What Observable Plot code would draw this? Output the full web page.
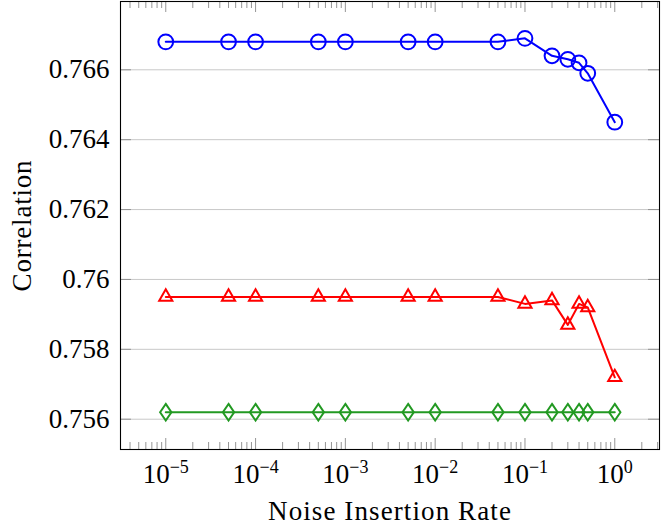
<!DOCTYPE html>
<html>
<head>
<meta charset="utf-8">
<script src="https://cdn.jsdelivr.net/npm/d3@7"></script>
<script src="https://cdn.jsdelivr.net/npm/@observablehq/plot@0.6"></script>
<style>
  html, body { margin: 0; padding: 0; background: #fff; }
  #chart svg, #chart svg text, #chart svg tspan { font-family: "Liberation Serif", "DejaVu Serif", "Noto Serif", serif !important; }
</style>
</head>
<body>
<div id="chart"></div>
<script>
// ---- data ----
const rates = [1e-5, 5e-5, 1e-4, 5e-4, 1e-3, 5e-3, 1e-2, 5e-2, 0.1, 0.2, 0.3, 0.4, 0.5, 1.0];
const blueSeries  = [0.7668, 0.7668, 0.7668, 0.7668, 0.7668, 0.7668, 0.7668, 0.7668, 0.7669, 0.7664, 0.7663, 0.7662, 0.7659, 0.7645];
const redSeries   = [0.7595, 0.7595, 0.7595, 0.7595, 0.7595, 0.7595, 0.7595, 0.7595, 0.7593, 0.7594, 0.7587, 0.7593, 0.7592, 0.7572];
const greenSeries = [0.7562, 0.7562, 0.7562, 0.7562, 0.7562, 0.7562, 0.7562, 0.7562, 0.7562, 0.7562, 0.7562, 0.7562, 0.7562, 0.7562];
const xMajorTicks = [1e-5, 1e-4, 1e-3, 1e-2, 1e-1, 1];
const yTicks = [0.756, 0.758, 0.76, 0.762, 0.764, 0.766];
const yTickLabels = ["0.756", "0.758", "0.76", "0.762", "0.764", "0.766"];
const xLabel = "Noise Insertion Rate";
const yLabel = "Correlation";

// ---- layout ----
const W = 661, H = 529;
const mL = 120, mR = 2, mT = 1, mB = 80;
const frameW = W - mL - mR, frameH = H - mT - mB;
const xDomain = [Math.pow(10, -5.504), Math.pow(10, 0.498)];
const yDomain = [0.755133, 0.767955];

const minorTicks = [];
for (let k = -6; k <= 0; k++) for (let m = 2; m <= 9; m++) {
  const v = m * Math.pow(10, k);
  if (v > xDomain[0] && v < xDomain[1]) minorTicks.push(v);
}

const toRows = (vals, s) => rates.map((r, i) => ({rate: r, value: vals[i], series: s}));
const blue = toRows(blueSeries, "blue");
const red = toRows(redSeries, "red");
const green = toRows(greenSeries, "green");

const cBlue = "#0000ff", cRed = "#ff0000", cGreen = "#229922";

const triangleSym = {
  draw(ctx, size) {
    const R = Math.sqrt(size / Math.PI);
    ctx.moveTo(0, -R);
    ctx.lineTo(0.866 * R, 0.5 * R);
    ctx.lineTo(-0.866 * R, 0.5 * R);
    ctx.closePath();
  }
};
const diamondSym = {
  draw(ctx, size) {
    const R = Math.sqrt(size / Math.PI);
    ctx.moveTo(0, -R);
    ctx.lineTo(0.68 * R, 0);
    ctx.lineTo(0, R);
    ctx.lineTo(-0.68 * R, 0);
    ctx.closePath();
  }
};

const tickStroke = "#8a8a8a";
const SW = 2;
const chart = Plot.plot({
  width: W, height: H,
  marginLeft: mL, marginRight: mR, marginTop: mT, marginBottom: mB,
  style: {fontFamily: "Liberation Serif, serif", fontSize: "27px", color: "black", background: "white"},
  x: {type: "log", domain: xDomain},
  y: {domain: yDomain},
  marks: [
    Plot.gridY(yTicks, {stroke: "#c8c8c8", strokeOpacity: 1, strokeWidth: 1}),
    // x ticks bottom (inward)
    Plot.tickX(minorTicks, {x: d => d, insetTop: frameH - 7, stroke: tickStroke, strokeWidth: 0.9}),
    Plot.tickX(xMajorTicks, {x: d => d, insetTop: frameH - 11, stroke: tickStroke, strokeWidth: 0.9}),
    // x ticks top (inward)
    Plot.tickX(minorTicks, {x: d => d, insetBottom: frameH - 7, stroke: tickStroke, strokeWidth: 0.9}),
    Plot.tickX(xMajorTicks, {x: d => d, insetBottom: frameH - 11, stroke: tickStroke, strokeWidth: 0.9}),
    // y ticks left & right (inward)
    Plot.tickY(yTicks, {y: d => d, insetRight: frameW - 11, stroke: tickStroke, strokeWidth: 0.9}),
    Plot.tickY(yTicks, {y: d => d, insetLeft: frameW - 11, stroke: tickStroke, strokeWidth: 0.9}),
    // series
    Plot.line(green, {x: "rate", y: "value", stroke: cGreen, strokeWidth: SW}),
    Plot.dot(green, {x: "rate", y: "value", stroke: cGreen, strokeWidth: SW, fill: "none", symbol: diamondSym, r: 8.3}),
    Plot.line(red, {x: "rate", y: "value", stroke: cRed, strokeWidth: SW}),
    Plot.dot(red, {x: "rate", y: "value", stroke: cRed, strokeWidth: SW, fill: "none", symbol: triangleSym, r: 7.6}),
    Plot.line(blue, {x: "rate", y: "value", stroke: cBlue, strokeWidth: SW}),
    Plot.dot(blue, {x: "rate", y: "value", stroke: cBlue, strokeWidth: SW, fill: "none", r: 7.4}),
    // axes
    Plot.axisY(yTicks, {tickSize: 0, tickPadding: 11, tickFormat: d => yTickLabels[yTicks.indexOf(d)], label: null}),
    Plot.axisX(xMajorTicks, {tickSize: 0, tickPadding: 14, tickFormat: d => "10^" + Math.round(Math.log10(d)), label: null}),
    Plot.text([xLabel], {frameAnchor: "bottom", dy: 70, lineAnchor: "bottom", textAnchor: "middle", fontSize: 27, fill: "black"}),
    Plot.text([yLabel], {frameAnchor: "left", dx: -90, rotate: -90, lineAnchor: "bottom", textAnchor: "middle", fontSize: 27, fill: "black"}),
    Plot.frame({stroke: "black", strokeWidth: 1.1})
  ]
});

document.getElementById("chart").appendChild(chart);

// superscript exponents on x tick labels
d3.select(chart).selectAll('g[aria-label="x-axis tick label"] text').each(function() {
  const t = d3.select(this);
  const s = t.text();
  const m = s.match(/^10\^(-?\d+)$/);
  if (!m) return;
  const exp = m[1].replace("-", "\u2212");
  t.text(null);
  t.append("tspan").text("10");
  t.append("tspan").attr("dy", "-10").attr("font-size", "18px").text(exp);
});
// letter spacing for axis labels
d3.select(chart).selectAll("text").filter(function() { return d3.select(this).text() === xLabel; })
  .style("letter-spacing", "1.1px");
d3.select(chart).selectAll("text").filter(function() { return d3.select(this).text() === yLabel; })
  .style("letter-spacing", "0.8px");
</script>
</body>
</html>
